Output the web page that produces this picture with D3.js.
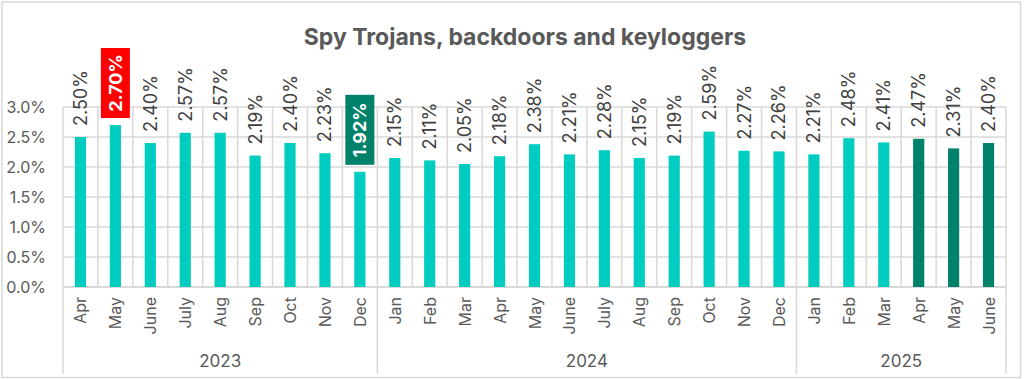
<!DOCTYPE html>
<html><head><meta charset="utf-8">
<script src="https://cdn.jsdelivr.net/npm/d3@7"></script>
<style>body{margin:0;background:#fff}svg{display:block;font-family:Inter,"Open Sans",sans-serif}</style>
</head><body><svg id="c" width="1024" height="379"></svg>
<script>
const months = ["Apr","May","June","July","Aug","Sep","Oct","Nov","Dec",
  "Jan","Feb","Mar","Apr","May","June","July","Aug","Sep","Oct","Nov","Dec",
  "Jan","Feb","Mar","Apr","May","June"];
const years = ["2023","2024","2025"];
const yearOf = [0,0,0,0,0,0,0,0,0, 1,1,1,1,1,1,1,1,1,1,1,1, 2,2,2,2,2,2];
const values = [2.50,2.70,2.40,2.57,2.57,2.19,2.40,2.23,1.92,
  2.15,2.11,2.05,2.18,2.38,2.21,2.28,2.15,2.19,2.59,2.27,2.26,
  2.21,2.48,2.41,2.47,2.31,2.40];
const darkBars = [24,25,26];          // indices of dark bars
const highlights = [{i:1,color:"#ff0000"},{i:8,color:"#00826a"}];
const yTicks = [0,0.5,1,1.5,2,2.5,3];
const title = "Spy Trojans, backdoors and keyloggers";

const svg = d3.select("#c");
const L=63, R=1006, T=107, B=287;
const x = d3.scaleBand().domain(d3.range(months.length)).range([L,R]).padding(0);
const y = d3.scaleLinear().domain([0,3]).range([B,T]);
const grid="#d9d9d9", txt="#595959";

svg.append("rect").attr("x",2).attr("y",2).attr("width",1018.5).attr("height",375.5)
  .attr("fill","#fff").attr("stroke",grid).attr("stroke-width",1.5);

svg.append("text").attr("x",525).attr("y",45).attr("text-anchor","middle")
  .attr("font-size",23).attr("font-weight",700).attr("fill",txt).text(title);

// horizontal gridlines
svg.append("g").selectAll("line").data(yTicks).join("line")
  .attr("x1",L).attr("x2",R).attr("y1",d=>y(d)).attr("y2",d=>y(d))
  .attr("stroke",grid).attr("stroke-width",d=>d===0?2:1.5);
// vertical gridlines at category boundaries
const bounds = d3.range(months.length+1).map(i=> i<months.length? x(i) : R);
svg.append("g").selectAll("line").data(bounds).join("line")
  .attr("x1",d=>d).attr("x2",d=>d).attr("y1",T).attr("y2",B)
  .attr("stroke",grid).attr("stroke-width",1.5);
// year separators below axis
const yearStarts = years.map((_,k)=>yearOf.indexOf(k));
const sepX = yearStarts.map(i=>x(i)).concat([R]);
svg.append("g").selectAll("line").data(sepX).join("line")
  .attr("x1",d=>d).attr("x2",d=>d).attr("y1",B).attr("y2",374)
  .attr("stroke",grid).attr("stroke-width",1.5);

// y axis labels
const yAxis = d3.axisLeft(y).tickValues(yTicks).tickFormat(d=>d.toFixed(1)+"%").tickSize(0).tickPadding(0);
const ya = svg.append("g").attr("transform",`translate(46,0)`).call(yAxis);
ya.select(".domain").remove();
ya.selectAll("text").attr("font-size",16).attr("fill",txt).attr("font-family","Inter,sans-serif");

// bars
const bw = x.bandwidth()*0.32;
svg.append("g").selectAll("rect").data(values).join("rect")
  .attr("x",(d,i)=>x(i)+x.bandwidth()/2-bw/2).attr("width",bw)
  .attr("y",d=>y(d)).attr("height",d=>B-y(d))
  .attr("fill",(d,i)=>darkBars.includes(i)?"#00826a":"#00ccbf");

// data labels
const lab = svg.append("g");
values.forEach((v,i)=>{
  const cx = x(i)+x.bandwidth()/2;
  const h = highlights.find(h=>h.i===i);
  const s = v.toFixed(2)+"%";
  if(h){
    const y0 = y(v)-7, bh=70, bwid=29;
    lab.append("rect").attr("x",cx-bwid/2).attr("y",y0-bh).attr("width",bwid).attr("height",bh).attr("fill",h.color);
    lab.append("text").attr("transform",`translate(${cx},${y0-bh/2}) rotate(-90)`)
      .attr("text-anchor","middle").attr("dominant-baseline","central")
      .attr("font-size",18).attr("font-weight",700).attr("fill","#fff").text(s);
  } else {
    lab.append("text").attr("transform",`translate(${cx},${y(v)-11}) rotate(-90)`)
      .attr("text-anchor","start").attr("dominant-baseline","central")
      .attr("font-size",18).attr("fill","#404040").text(s);
  }
});

// month labels
svg.append("g").selectAll("text").data(months).join("text")
  .attr("transform",(d,i)=>`translate(${x(i)+x.bandwidth()/2},297) rotate(-90)`)
  .attr("text-anchor","end").attr("dominant-baseline","central")
  .attr("font-size",16).attr("fill",txt).text(d=>d);

// year labels
svg.append("g").selectAll("text").data(years).join("text")
  .attr("x",(d,k)=>(sepX[k]+sepX[k+1])/2).attr("y",361).attr("text-anchor","middle")
  .attr("dominant-baseline","central").attr("font-size",17).attr("fill",txt).text(d=>d);
</script></body></html>
